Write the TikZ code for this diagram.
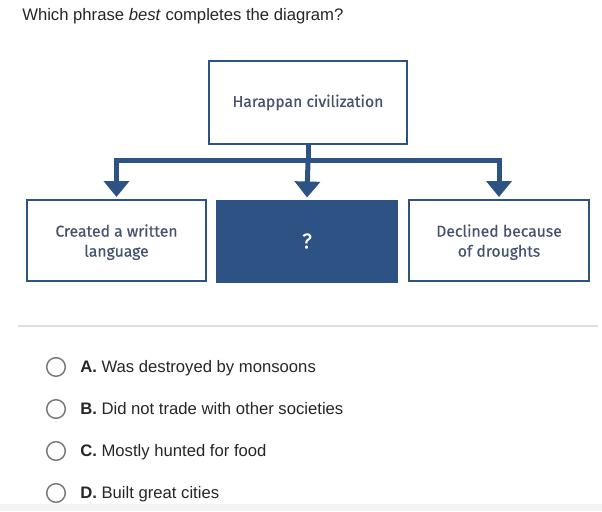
\documentclass[tikz,border=0pt]{standalone}
\usepackage{fontspec}
\setmainfont{Liberation Sans}
\newfontfamily\boxfont{Fira Sans}[FakeBold=0.4]
\usetikzlibrary{arrows.meta,positioning,calc}
\definecolor{HarNavy}{HTML}{2C5384}
\definecolor{HarText}{HTML}{44526E}
\definecolor{HarInk}{HTML}{262626}
\definecolor{HarRing}{HTML}{777777}
\definecolor{HarRule}{HTML}{DDDDDD}
\definecolor{HarBand}{HTML}{F3F3F3}

\begin{document}
\begin{tikzpicture}[x=0.75pt,y=-0.75pt,
    chartbox/.style={draw=HarNavy,line width=1.5pt,fill=white,align=center,
      font=\boxfont\fontsize{11.8}{15}\selectfont,text=HarText,
      minimum width=134.5pt,minimum height=60.75pt,inner sep=0pt},
    pairbox/.style={chartbox,text depth=0pt},
    topbox/.style={chartbox,minimum width=148.5pt,minimum height=62.25pt},
    blankbox/.style={chartbox,fill=HarNavy,text=white,font=\boxfont\fontsize{16}{16}\selectfont},
    trunk/.style={HarNavy,line width=3.75pt},
    branch/.style={trunk,-{Triangle[width=18.75pt,length=12pt]},shorten >=1.5pt},
    ring/.style={draw=HarRing,line width=1.1pt,circle,minimum size=14pt,inner sep=0pt},
    optlabel/.style={anchor=base west,inner sep=0pt,text=HarInk,font=\fontsize{12.5}{15}\selectfont}]
  \useasboundingbox (0,0) rectangle (602,511);
  \fill[HarBand] (0,504) rectangle (602,511);
  \node[anchor=base west,inner sep=0pt,text=HarInk,font=\fontsize{12.5}{15}\selectfont] (question) at (22,20)
    {Which phrase \textit{best} completes the diagram?};
  % diagram
  \node[topbox] (civ) at (308,102.5) {Harappan civilization};
  \node[pairbox] (written) at (116.5,240.5) {Created a written\\language};
  \node[blankbox] (unknown) at (307,241) {?};
  \node[pairbox] (droughts) at (499,240.5) {Declined because\\of droughts};
  \coordinate (split) at (civ.south |- 0,160);
  \draw[trunk] (civ.south) -- (split);
  \draw[branch] (split) -| (written.north);
  \draw[branch] (split) -- (unknown.north);
  \draw[branch] (split) -| (droughts.north);
  \draw[HarRule,line width=0.9pt] (18,326) -- (598,326);
  % answer choices
  \foreach \ltr/\txt [count=\i] in {A/Was destroyed by monsoons,B/Did not trade with other societies,C/Mostly hunted for food,D/Built great cities}{
    \node[ring] (ring\ltr) at (56,325+42*\i) {};
    \node[optlabel] (opt\ltr) at (80,330+42*\i) {\textbf{\ltr.}\ \txt};
  }
\end{tikzpicture}
\end{document}
